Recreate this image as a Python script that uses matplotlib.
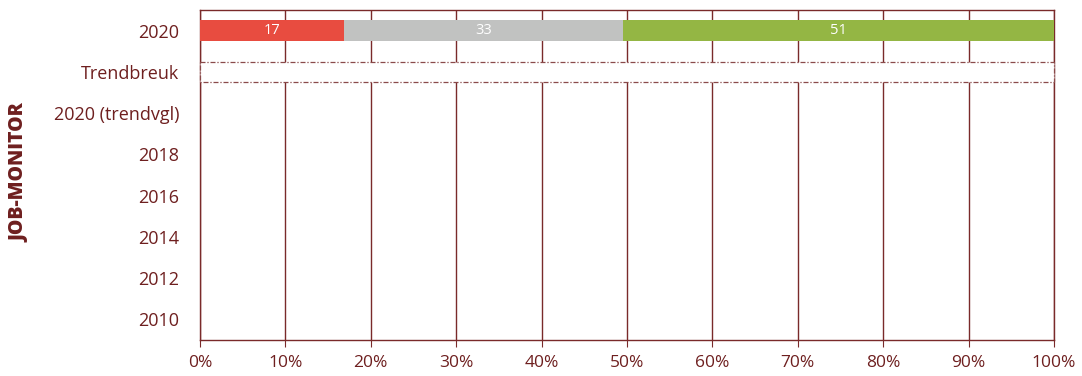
import numpy as np
import matplotlib
matplotlib.use("Agg")
from matplotlib import pyplot as plt

# data
categories = ["2020", "Trendbreuk", "2020 (trendvgl)", "2018", "2016", "2014", "2012", "2010"]
seg_values = {"neg": [17], "neu": [33], "pos": [51]}
seg_colors = {"neg": "#E84C40", "neu": "#C1C2C1", "pos": "#94B644"}
xticks = np.arange(0, 101, 10)
xticklabels = [f"{v}%" for v in xticks]

maroon = "#6E1F1F"
grid_col = "#7A2A2A"

plt.rcParams["font.family"] = ["Open Sans", "DejaVu Sans"]

fig = plt.figure(figsize=(10.82, 3.76), dpi=100)
ax = fig.add_axes([200 / 1082, 1 - 340 / 376, 854 / 1082, 330 / 376])

ypos = np.arange(len(categories))

# stacked bar for 2020, normalised to 100 %
total = sum(v[0] for v in seg_values.values())
left = 0
for key in ["neg", "neu", "pos"]:
    val = seg_values[key][0]
    w = val / total * 100
    ax.barh(ypos[0], w, left=left, height=0.51, color=seg_colors[key], zorder=3)
    ax.text(left + w / 2, ypos[0], str(val), ha="center", va="center",
            color="white", fontsize=10.5, zorder=4)
    left += w

# trend break box (drawn over grid and spines)
ax.barh(ypos[1], 100, left=0, height=0.49, color="white", clip_on=False,
        edgecolor="#8A4A4A", linestyle=(0, (4, 1.5, 1, 1.5)), linewidth=0.9, zorder=3)

ax.set_xlim(0, 100)
ax.set_ylim(len(categories) - 0.5, -0.5)
ax.set_yticks(ypos)
ax.set_yticklabels(categories, fontsize=13, color=maroon)
ax.set_xticks(xticks)
ax.set_xticklabels(xticklabels, fontsize=12.5, color=maroon)
ax.tick_params(axis="y", length=0, pad=15)
ax.tick_params(axis="x", length=5, color=grid_col, pad=6)
ax.grid(axis="x", color=grid_col, linewidth=1, zorder=0)
for s in ax.spines.values():
    s.set_color(grid_col)
    s.set_linewidth(1)
    s.set_zorder(2.5)

fig.text(20 / 1082, 1 - 173 / 376, "JOB-MONITOR", rotation=90, ha="center",
         va="center", fontsize=14, fontweight="heavy", color=maroon)

plt.savefig("out.png", dpi=100)
